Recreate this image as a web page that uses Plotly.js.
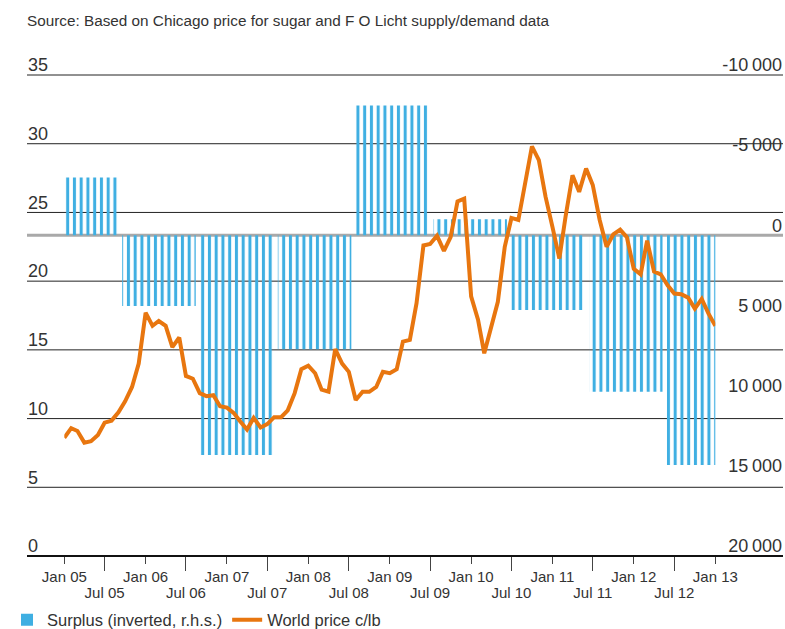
<!DOCTYPE html>
<html>
<head>
<meta charset="utf-8">
<script src="https://cdn.plot.ly/plotly-3.0.1.min.js"></script>
<style>
  html, body { margin: 0; padding: 0; background: #ffffff; }
  #chart { width: 785px; height: 629px; }
</style>
</head>
<body>
<div id="chart"></div>
<script>
// ---------------- data ----------------
const firstYear = 2005;
// monthly world sugar price, c/lb, Jan 2005 .. Jan 2013
const worldPrice = [
  8.6, 9.3, 9.1, 8.25, 8.35, 8.8, 9.7, 9.85, 10.45, 11.25, 12.3, 14.0,
  17.7, 16.75, 17.1, 16.75, 15.2, 15.9, 13.1, 12.9, 11.85, 11.63, 11.7, 10.9,
  10.8, 10.4, 9.8, 9.2, 10.05, 9.35, 9.6, 10.1, 10.1, 10.6, 11.85, 13.6,
  13.85, 13.3, 12.1, 11.95, 15.05, 14.0, 13.4, 11.35, 11.95, 11.95, 12.3, 13.4,
  13.3, 13.6, 15.6, 15.72, 18.4, 22.6, 22.7, 23.3, 22.2, 23.2, 25.8, 26.0,
  18.9, 17.2, 14.75, 16.7, 18.5, 22.5, 24.6, 24.45, 27.35, 29.8, 28.8, 26.15,
  23.95, 21.65, 24.7, 27.7, 26.5, 28.2, 27.0, 24.45, 22.5, 23.4, 23.75, 23.2,
  20.9, 20.5, 22.95, 20.7, 20.5, 19.7, 19.1, 19.05, 18.8, 18.0, 18.7, 17.65,
  16.75
];
// sugar seasons and global surplus (deficit negative)
const seasons = ['2004/05', '2005/06', '2006/07', '2007/08', '2008/09',
                 '2009/10', '2010/11', '2011/12', '2012/13'];
const surplus = [-3600, 4400, 13700, 7100, -8100, -1000, 4650, 9750, 14330];

const janTickDates = ['2005-01-01','2006-01-01','2007-01-01','2008-01-01','2009-01-01',
                      '2010-01-01','2011-01-01','2012-01-01','2013-01-01'];
const janTickLabels = ['Jan 05','Jan 06','Jan 07','Jan 08','Jan 09','Jan 10','Jan 11','Jan 12','Jan 13'];
const julTickDates = ['2005-07-01','2006-07-01','2007-07-01','2008-07-01',
                      '2009-07-01','2010-07-01','2011-07-01','2012-07-01'];
const julTickLabels = ['Jul 05','Jul 06','Jul 07','Jul 08','Jul 09','Jul 10','Jul 11','Jul 12'];

const priceTicks = [0, 5, 10, 15, 20, 25, 30, 35];
const surplusTicks = [-10000, -5000, 0, 5000, 10000, 15000, 20000];
const surplusTickLabels = ['-10\u2009000', '-5\u2009000', '0', '5\u2009000', '10\u2009000', '15\u2009000', '20\u2009000'];

// month dates for the price series
const priceDates = worldPrice.map((_, i) => {
  const y = firstYear + Math.floor(i / 12);
  const m = (i % 12) + 1;
  return y + '-' + String(m).padStart(2, '0') + '-01';
});

// ---------------- styling ----------------
const BLUE = '#3fafe2';
const ORANGE = '#e8760f';
const TEXT = '#333333';
const FONT = 'Liberation Sans, Arial, sans-serif';

// left axis 0..35 maps onto right axis 20000..-10000
const priceBottom = -0.8, priceTop = 36.82;
const toSurplus = p => 20000 - p / 35 * 30000;
const axisPos = -priceBottom / (priceTop - priceBottom);

const traces = [
  {
    type: 'bar', x: seasons, y: surplus, xaxis: 'x', yaxis: 'y',
    showlegend: false, hoverinfo: 'skip',
    marker: {
      color: BLUE, line: {width: 0},
      pattern: {shape: '|', size: 6.75, solidity: 0.45, fgcolor: BLUE,
                bgcolor: 'rgba(0,0,0,0)', fillmode: 'replace'}
    }
  },
  {
    type: 'bar', x: [null], y: [null], xaxis: 'x3', yaxis: 'y',
    name: 'Surplus (inverted, r.h.s.)', marker: {color: BLUE}, showlegend: true
  },
  {
    type: 'scatter', mode: 'lines', x: priceDates, y: worldPrice,
    xaxis: 'x2', yaxis: 'y2', name: 'World price c/lb',
    line: {color: ORANGE, width: 4, shape: 'linear'}
  }
];

const L = 24, W = 761;
const d0 = (64.3 - L) / W, d1 = (715.3 - L) / W;
const g0 = (27 - L) / W, g1 = (783 - L) / W;

const shapes = [];
priceTicks.filter(v => v > 0).forEach(v => shapes.push({
  type: 'line', xref: 'paper', x0: g0, x1: g1, yref: 'y2', y0: v, y1: v,
  line: {color: '#222222', width: 1}, layer: 'below'
}));
shapes.push({type: 'line', xref: 'paper', x0: g0, x1: g1, yref: 'y', y0: 0, y1: 0,
  line: {color: '#a9a9a9', width: 3}, layer: 'below'});
shapes.push({type: 'line', xref: 'paper', x0: g0, x1: g1, yref: 'y2', y0: 0, y1: 0,
  line: {color: '#111111', width: 2.2}, layer: 'above'});

const dateAxis = {
  type: 'date', overlaying: 'x', anchor: 'free', position: axisPos,
  range: ['2005-01-01', '2013-01-01'], tickmode: 'array',
  ticks: 'outside', tickwidth: 1, tickcolor: '#444',
  tickfont: {family: FONT, size: 15, color: TEXT},
  showgrid: false, zeroline: false, showline: false
};

const layout = {
  width: 785, height: 629,
  margin: {l: L, r: 0, t: 50, b: 62},
  paper_bgcolor: '#ffffff', plot_bgcolor: 'rgba(0,0,0,0)',
  font: {family: FONT, color: TEXT},
  barmode: 'overlay', bargap: 0.055,
  showlegend: true,
  title: {
    text: 'Source: Based on Chicago price for sugar and F O Licht supply/demand data',
    x: 27 / 785, xref: 'container', xanchor: 'left',
    y: 1 - 21 / 629, yref: 'container', yanchor: 'middle',
    font: {family: FONT, size: 15.3, color: TEXT}
  },
  xaxis: {
    type: 'category', domain: [d0, d1], anchor: 'y',
    range: [-0.217, 8.151],
    showticklabels: false, ticks: '', showgrid: false, zeroline: false, showline: false
  },
  xaxis2: Object.assign({}, dateAxis, {
    tickvals: janTickDates, ticktext: janTickLabels, ticklen: 7
  }),
  xaxis3: Object.assign({}, dateAxis, {
    tickvals: julTickDates, ticktext: julTickLabels, ticklen: 14, ticklabelstandoff: 9
  }),
  yaxis: {
    domain: [0, 1], anchor: 'free', position: 1, side: 'right',
    range: [toSurplus(priceBottom), toSurplus(priceTop)],
    tickmode: 'array', tickvals: surplusTicks, ticktext: surplusTickLabels,
    ticklabelposition: 'inside', ticklabelshift: 10, ticks: '',
    tickfont: {family: FONT, size: 18, color: TEXT},
    showgrid: false, zeroline: false, showline: false
  },
  yaxis2: {
    overlaying: 'y', anchor: 'free', position: 0, side: 'left',
    range: [priceBottom, priceTop],
    tickmode: 'array', tickvals: priceTicks,
    ticklabelposition: 'inside', ticklabelshift: -10, ticks: '',
    tickfont: {family: FONT, size: 18, color: TEXT},
    showgrid: false, zeroline: false, showline: false
  },
  legend: {
    orientation: 'h', xref: 'container', yref: 'container',
    x: 7 / 785, xanchor: 'left', y: 1 - 620 / 629, yanchor: 'middle',
    font: {family: FONT, size: 16.5, color: TEXT},
    bgcolor: 'rgba(0,0,0,0)', itemwidth: 30, traceorder: 'normal'
  },
  shapes: shapes
};

Plotly.newPlot('chart', traces, layout, {displayModeBar: false, staticPlot: true});
</script>
</body>
</html>
